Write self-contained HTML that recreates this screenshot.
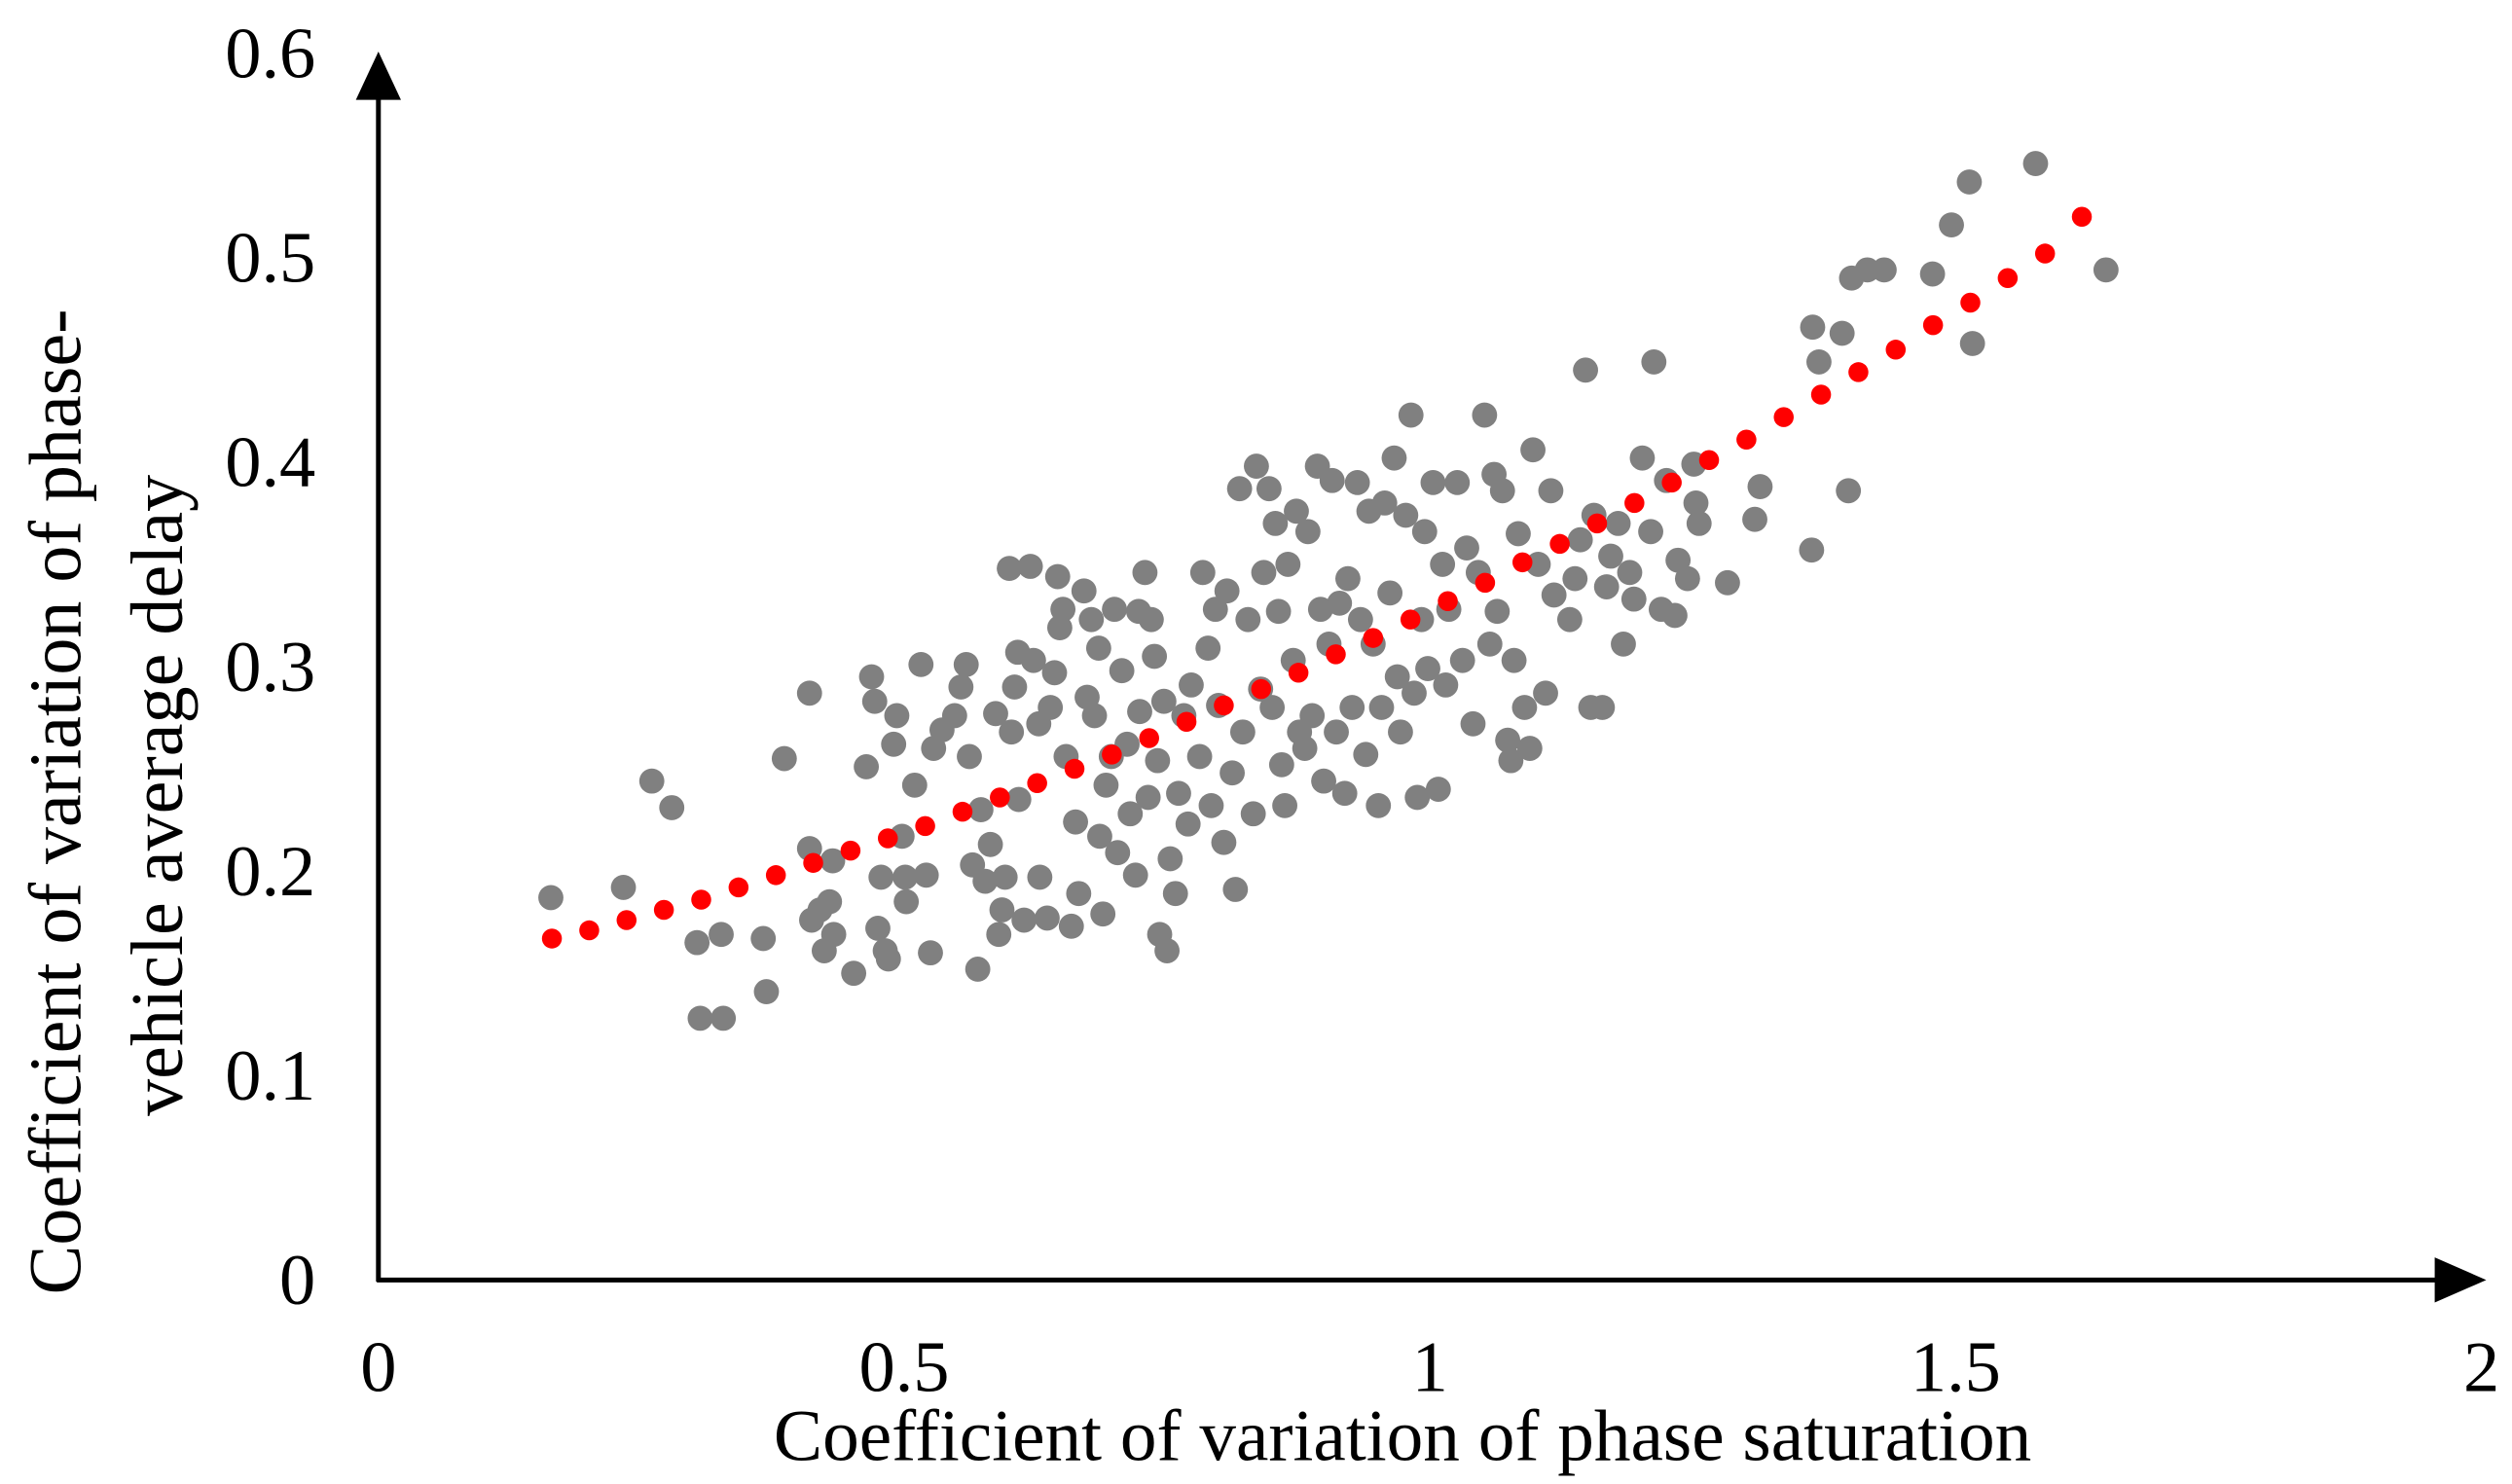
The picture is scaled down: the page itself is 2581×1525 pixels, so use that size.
<!DOCTYPE html>
<html><head><meta charset="utf-8"><style>
html,body{margin:0;padding:0;background:#fff;}
svg{display:block;font-family:"Liberation Serif",serif;}
</style></head><body>
<svg id="chart" width="2581" height="1525" viewBox="0 0 1560 921.7" xmlns="http://www.w3.org/2000/svg">
<rect width="1560" height="921.7" fill="#fff"/>
<g id="axes">
<line x1="235" y1="796" x2="235" y2="58" stroke="#000" stroke-width="3"/>
<polygon points="221,62 249,62 235,32" fill="#000"/>
<line x1="234" y1="795" x2="1515" y2="795" stroke="#000" stroke-width="3"/>
<polygon points="1512,781 1512,809 1544,795" fill="#000"/>
</g>
<g id="ticks"></g>
<g id="gray"></g>
<g id="red"></g>
<text x="871" y="907" font-size="45.5" text-anchor="middle">Coefficient of variation of phase saturation</text>
<text transform="translate(50,498) rotate(-90)" font-size="46" text-anchor="middle">Coefficient of variation of phase-</text>
<text transform="translate(113,494) rotate(-90)" font-size="46" text-anchor="middle">vehicle average delay</text>
</svg>
<script>
const xTicks=[0,0.5,1,1.5,2];
const xTickLabels=["0","0.5","1","1.5","2"];
const yTicks=[0,0.1,0.2,0.3,0.4,0.5,0.6];
const yTickLabels=["0","0.1","0.2","0.3","0.4","0.5","0.6"];
const grayX=[.164,.233,.260,.279,.303,.306,.326,.328,.366,.369,.386,.410,.410,.412,.420,.424,.429,.432,.433,.452,.464,.469,.472,.475,.478,.482,.485,.490,.493,.498,.501,.502,.510,.516,.521,.525,.528,.536,.548,.554,.559,.562,.565,.570,.573,.577,.582,.587,.590,.593,.596,.600,.602,.605,.608,.609,.614,.620,.623,.628,.629,.636,.639,.643,.646,.648,.651,.654,.659,.663,.666,.671,.674,.678,.681,.685,.686,.689,.692,.697,.700,.703,.707,.712,.715,.720,.723,.724,.729,.732,.735,.738,.741,.743,.747,.750,.753,.758,.761,.766,.770,.773,.781,.784,.789,.792,.796,.799,.804,.807,.812,.815,.819,.822,.827,.832,.835,.839,.842,.847,.850,.853,.856,.859,.862,.865,.870,.873,.876,.881,.884,.888,.893,.896,.899,.904,.907,.911,.914,.919,.922,.926,.931,.934,.939,.942,.946,.951,.954,.957,.962,.966,.969,.972,.977,.982,.985,.988,.992,.995,.998,1.003,1.008,1.012,1.015,1.018,1.026,1.031,1.035,1.041,1.046,1.052,1.057,1.061,1.064,1.069,1.074,1.077,1.080,1.084,1.090,1.095,1.098,1.103,1.110,1.115,1.118,1.133,1.138,1.143,1.148,1.153,1.156,1.164,1.168,1.172,1.179,1.184,1.190,1.194,1.202,1.210,1.213,1.220,1.225,1.233,1.236,1.245,1.251,1.253,1.256,1.283,1.309,1.314,1.363,1.364,1.370,1.392,1.398,1.401,1.416,1.432,1.478,1.496,1.513,1.516,1.576,1.643];
const grayY=[.187,.192,.244,.231,.165,.128,.169,.128,.167,.141,.255,.287,.211,.176,.181,.161,.185,.205,.169,.150,.251,.295,.283,.172,.197,.161,.157,.262,.276,.217,.197,.185,.242,.301,.198,.160,.260,.269,.276,.290,.301,.256,.203,.152,.230,.195,.213,.277,.169,.181,.197,.348,.268,.290,.307,.235,.176,.349,.303,.272,.197,.177,.280,.297,.344,.319,.328,.256,.173,.224,.189,.337,.285,.323,.276,.309,.217,.179,.242,.256,.328,.209,.298,.262,.228,.198,.327,.278,.346,.236,.323,.305,.254,.169,.283,.161,.206,.189,.238,.276,.223,.291,.256,.346,.309,.232,.328,.281,.214,.337,.248,.191,.387,.268,.323,.228,.398,.289,.346,.387,.280,.370,.327,.252,.232,.350,.303,.376,.268,.260,.366,.276,.398,.328,.244,.311,.391,.268,.331,.238,.343,.280,.390,.323,.257,.376,.311,.232,.280,.380,.336,.402,.295,.268,.374,.423,.287,.236,.323,.366,.299,.390,.240,.350,.291,.328,.390,.303,.358,.272,.346,.423,.311,.394,.327,.386,.264,.254,.303,.365,.280,.260,.406,.350,.287,.386,.335,.323,.343,.362,.445,.280,.374,.280,.339,.354,.370,.311,.346,.333,.402,.366,.449,.328,.391,.325,.352,.343,.399,.380,.370,.341,.372,.388,.357,.466,.449,.463,.386,.490,.494,.494,.492,.516,.537,.458,.546,.494];
const trendX=[.165,.2005,.236,.2715,.307,.3425,.378,.4135,.449,.4845,.520,.5555,.591,.6265,.662,.6975,.733,.7685,.804,.8395,.875,.9105,.946,.9815,1.017,1.0525,1.088,1.1235,1.159,1.1945,1.230,1.2655,1.301,1.3365,1.372,1.4075,1.443,1.4785,1.514,1.5495,1.585,1.620];
const trendY=[.167,.171,.176,.181,.186,.192,.198,.204,.210,.216,.222,.229,.236,.243,.250,.257,.265,.273,.281,.289,.297,.306,.314,.323,.332,.341,.351,.360,.370,.380,.390,.401,.411,.422,.433,.444,.455,.467,.478,.490,.502,.520];

const NS="http://www.w3.org/2000/svg";
function sx(v){return 235+v*653;}
function sy(v){return 795-v*1270;}
const tg=document.getElementById('ticks');
xTicks.forEach((t,i)=>{
  const e=document.createElementNS(NS,'text');
  
  
  e.setAttribute('x',sx(t));e.setAttribute('y',864);
  e.setAttribute('font-size','45');e.setAttribute('text-anchor','middle');
  e.textContent=xTickLabels[i];tg.appendChild(e);
});
yTicks.forEach((t,i)=>{
  const e=document.createElementNS(NS,'text');
  
  
  e.setAttribute('x',196);e.setAttribute('y',sy(t)+15);
  e.setAttribute('font-size','45');e.setAttribute('text-anchor','end');
  e.textContent=yTickLabels[i];tg.appendChild(e);
});
const gg=document.getElementById('gray');
grayX.forEach((x,i)=>{
  const c=document.createElementNS(NS,'circle');
  
  
  c.setAttribute('cx',sx(x));c.setAttribute('cy',sy(grayY[i]));
  c.setAttribute('r',7.8);c.setAttribute('fill','#808080');gg.appendChild(c);
});
const rg=document.getElementById('red');
trendX.forEach((x,i)=>{
  const c=document.createElementNS(NS,'circle');
  
  
  c.setAttribute('cx',sx(x));c.setAttribute('cy',sy(trendY[i]));
  c.setAttribute('r',6.2);c.setAttribute('fill','#ff0000');rg.appendChild(c);
});
</script>
</body></html>
